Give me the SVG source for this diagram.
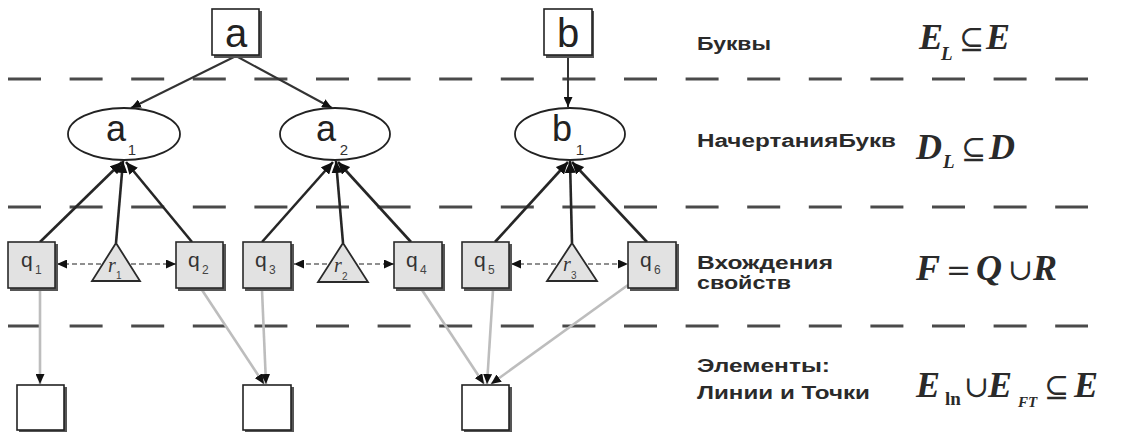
<svg xmlns="http://www.w3.org/2000/svg" width="1126" height="432" viewBox="0 0 1126 432">
  <style>
    .sep { stroke: #4a4a4a; stroke-width: 3; stroke-dasharray: 33 28.6; fill: none; }
    .box { fill: #ffffff; stroke: #222; stroke-width: 1.6; }
    .shadow { fill: #555; }
    .qbox { fill: #e2e2e2; stroke: #2a2a2a; stroke-width: 1.6; }
    .tri { fill: #e2e2e2; stroke: #2a2a2a; stroke-width: 1.8; }
    .ell { fill: #ffffff; stroke: #222; stroke-width: 1.8; }
    .up { stroke: #262626; stroke-width: 2.6; fill: none; }
    .down { stroke: #333; stroke-width: 2; fill: none; }
    .prop { stroke: #8f8f8f; stroke-width: 2; stroke-dasharray: 5 3; fill: none; }
    .elem { stroke: #bdbdbd; stroke-width: 2.6; fill: none; }
    .big { font-family: "Liberation Sans", Arial, sans-serif; font-size: 40px; fill: #222; }
    .lbl { font-family: "Liberation Sans", Arial, sans-serif; font-size: 36px; fill: #222; }
    .sub { font-family: "Liberation Sans", Arial, sans-serif; font-size: 15px; fill: #333; }
    .q { font-family: "Liberation Sans", Arial, sans-serif; font-size: 21px; fill: #333; }
    .qs { font-family: "Liberation Sans", Arial, sans-serif; font-size: 12px; fill: #444; }
    .r { font-family: "Liberation Serif", serif; font-style: italic; font-size: 20px; fill: #333; }
    .rs { font-family: "Liberation Sans", Arial, sans-serif; font-size: 10px; fill: #444; }
    .cap { font-family: "Liberation Sans", Arial, sans-serif; font-weight: bold; font-size: 18px; fill: #2a2a2a; }
    .m { font-family: "Liberation Serif", "DejaVu Serif", serif; font-style: italic; font-weight: bold; font-size: 36px; fill: #2a2a2a; }
    .ms { font-family: "Liberation Serif", "DejaVu Serif", serif; font-style: italic; font-weight: bold; font-size: 19px; fill: #2a2a2a; }
    .op { font-family: "DejaVu Serif", "Liberation Serif", serif; font-size: 30px; fill: #2a2a2a; }
  </style>
  <defs>
    <marker id="headBig" markerUnits="userSpaceOnUse" markerWidth="13" markerHeight="11" refX="12" refY="5.5" orient="auto">
      <path d="M0,0 L12,5.5 L0,11 z" fill="#111"/>
    </marker>
    <marker id="head" markerUnits="userSpaceOnUse" markerWidth="11" markerHeight="9" refX="10" refY="4.5" orient="auto">
      <path d="M0,0 L10,4.5 L0,9 z" fill="#111"/>
    </marker>
    <marker id="headSmall" markerUnits="userSpaceOnUse" markerWidth="11" markerHeight="9" refX="10" refY="4.5" orient="auto">
      <path d="M0,0 L10,4.5 L0,9 z" fill="#111"/>
    </marker>
  </defs>

  <!-- layer separators -->
  <g id="separators">
    <line class="sep" x1="8" y1="79" x2="1088" y2="79"/>
    <line class="sep" x1="8" y1="207" x2="1088" y2="207"/>
    <line class="sep" x1="8" y1="326" x2="1088" y2="326"/>
  </g>

  <!-- connectors -->
  <g id="connectors">
    <!-- letters to letter shapes -->
    <line class="down" x1="236" y1="56" x2="131" y2="108" marker-end="url(#head)"/>
    <line class="down" x1="236" y1="56" x2="332" y2="108" marker-end="url(#head)"/>
    <line class="down" x1="568" y1="56" x2="568" y2="107" marker-end="url(#head)"/>

    <!-- property occurrences to letter shapes -->
    <line class="up" x1="40" y1="242" x2="122" y2="162" marker-end="url(#headBig)"/>
    <line class="up" x1="116" y1="243" x2="123" y2="161" marker-end="url(#headBig)"/>
    <line class="up" x1="192" y1="242" x2="126" y2="162" marker-end="url(#headBig)"/>

    <line class="up" x1="262" y1="242" x2="333" y2="162" marker-end="url(#headBig)"/>
    <line class="up" x1="343" y1="243" x2="336" y2="161" marker-end="url(#headBig)"/>
    <line class="up" x1="411" y1="242" x2="338" y2="162" marker-end="url(#headBig)"/>

    <line class="up" x1="495" y1="242" x2="568" y2="162" marker-end="url(#headBig)"/>
    <line class="up" x1="572" y1="243" x2="570" y2="161" marker-end="url(#headBig)"/>
    <line class="up" x1="647" y1="242" x2="572" y2="162" marker-end="url(#headBig)"/>

    <!-- relations to their arguments -->
    <line class="prop" x1="101" y1="264" x2="57" y2="264" marker-end="url(#headSmall)"/>
    <line class="prop" x1="131" y1="264" x2="176" y2="264" marker-end="url(#headSmall)"/>
    <line class="prop" x1="327" y1="264" x2="294" y2="264" marker-end="url(#headSmall)"/>
    <line class="prop" x1="359" y1="264" x2="394" y2="264" marker-end="url(#headSmall)"/>
    <line class="prop" x1="556" y1="264" x2="511" y2="264" marker-end="url(#headSmall)"/>
    <line class="prop" x1="588" y1="264" x2="628" y2="264" marker-end="url(#headSmall)"/>

    <!-- properties to drawing elements -->
    <line class="elem" x1="40" y1="290" x2="40" y2="384" marker-end="url(#head)"/>
    <line class="elem" x1="202" y1="290" x2="264" y2="384" marker-end="url(#head)"/>
    <line class="elem" x1="262" y1="290" x2="266" y2="384" marker-end="url(#head)"/>
    <line class="elem" x1="422" y1="290" x2="484" y2="384" marker-end="url(#head)"/>
    <line class="elem" x1="493" y1="290" x2="487" y2="384" marker-end="url(#head)"/>
    <line class="elem" x1="628" y1="285" x2="491" y2="384" marker-end="url(#head)"/>
  </g>

  <!-- letters -->
  <g id="letter-a">
    <rect class="shadow" x="214" y="11" width="48" height="47"/>
    <rect class="box" x="212" y="9" width="47" height="46"/>
    <text class="big" x="236" y="47" text-anchor="middle">a</text>
  </g>
  <g id="letter-b">
    <rect class="shadow" x="546" y="11" width="48" height="47"/>
    <rect class="box" x="544" y="9" width="48" height="46"/>
    <text class="big" x="568" y="47" text-anchor="middle">b</text>
  </g>

  <!-- letter shapes -->
  <g id="shape-a1">
    <ellipse class="ell" cx="124" cy="134" rx="56" ry="26"/>
    <text class="lbl" x="116" y="141" text-anchor="middle">a</text>
    <text class="sub" x="132" y="155" text-anchor="middle">1</text>
  </g>
  <g id="shape-a2">
    <ellipse class="ell" cx="335" cy="134" rx="55" ry="26"/>
    <text class="lbl" x="326" y="141" text-anchor="middle">a</text>
    <text class="sub" x="344" y="155" text-anchor="middle">2</text>
  </g>
  <g id="shape-b1">
    <ellipse class="ell" cx="570" cy="134" rx="55" ry="26"/>
    <text class="lbl" x="562" y="141" text-anchor="middle">b</text>
    <text class="sub" x="580" y="155" text-anchor="middle">1</text>
  </g>

  <!-- property occurrences -->
  <g id="q1">
    <rect class="shadow" x="10" y="244" width="48" height="47"/>
    <rect class="qbox" x="8" y="242" width="47" height="46"/>
    <text class="q" x="21" y="267">q</text><text class="qs" x="35" y="274">1</text>
  </g>
  <g id="r1">
    <polygon class="tri" points="116,243 140,281 92,281"/>
    <text class="r" x="108" y="272">r</text><text class="rs" x="116" y="279">1</text>
  </g>
  <g id="q2">
    <rect class="shadow" x="178" y="244" width="48" height="47"/>
    <rect class="qbox" x="176" y="242" width="47" height="46"/>
    <text class="q" x="188" y="267">q</text><text class="qs" x="202" y="274">2</text>
  </g>
  <g id="q3">
    <rect class="shadow" x="245" y="244" width="49" height="47"/>
    <rect class="qbox" x="243" y="242" width="48" height="46"/>
    <text class="q" x="255" y="267">q</text><text class="qs" x="269" y="274">3</text>
  </g>
  <g id="r2">
    <polygon class="tri" points="343,243 368,282 318,282"/>
    <text class="r" x="334" y="272">r</text><text class="rs" x="342" y="280">2</text>
  </g>
  <g id="q4">
    <rect class="shadow" x="396" y="244" width="49" height="47"/>
    <rect class="qbox" x="394" y="242" width="48" height="46"/>
    <text class="q" x="406" y="267">q</text><text class="qs" x="420" y="274">4</text>
  </g>
  <g id="q5">
    <rect class="shadow" x="464" y="244" width="48" height="47"/>
    <rect class="qbox" x="462" y="242" width="47" height="46"/>
    <text class="q" x="474" y="267">q</text><text class="qs" x="488" y="274">5</text>
  </g>
  <g id="r3">
    <polygon class="tri" points="572,243 597,281 547,281"/>
    <text class="r" x="563" y="271">r</text><text class="rs" x="571" y="279">3</text>
  </g>
  <g id="q6">
    <rect class="shadow" x="630" y="244" width="49" height="47"/>
    <rect class="qbox" x="628" y="242" width="48" height="46"/>
    <text class="q" x="640" y="267">q</text><text class="qs" x="654" y="274">6</text>
  </g>

  <!-- drawing elements -->
  <g id="element-1">
    <rect class="shadow" x="19" y="387" width="48" height="46"/>
    <rect class="box" x="17" y="385" width="47" height="45"/>
  </g>
  <g id="element-2">
    <rect class="shadow" x="245" y="387" width="49" height="46"/>
    <rect class="box" x="243" y="385" width="48" height="45"/>
  </g>
  <g id="element-3">
    <rect class="shadow" x="464" y="387" width="48" height="46"/>
    <rect class="box" x="462" y="385" width="47" height="45"/>
  </g>

  <!-- layer captions -->
  <g id="captions">
    <text class="cap" x="697" y="50" textLength="74" lengthAdjust="spacingAndGlyphs">Буквы</text>
    <text class="cap" x="697" y="147" textLength="199" lengthAdjust="spacingAndGlyphs">НачертанияБукв</text>
    <text class="cap" x="697" y="269" textLength="136" lengthAdjust="spacingAndGlyphs">Вхождения</text>
    <text class="cap" x="697" y="289" textLength="94" lengthAdjust="spacingAndGlyphs">свойств</text>
    <text class="cap" x="697" y="372" textLength="133" lengthAdjust="spacingAndGlyphs">Элементы:</text>
    <text class="cap" x="697" y="399" textLength="173" lengthAdjust="spacingAndGlyphs">Линии и Точки</text>
  </g>

  <!-- set formulas -->
  <g id="formulas">
    <text class="m" x="919" y="49">E</text>
    <text class="ms" x="941" y="60">L</text>
    <text class="op" x="959" y="49">⊆</text>
    <text class="m" x="986" y="49">E</text>

    <text class="m" x="916" y="159">D</text>
    <text class="ms" x="943" y="168">L</text>
    <text class="op" x="961" y="159">⊆</text>
    <text class="m" x="989" y="159">D</text>

    <text class="m" x="916" y="280">F</text>
    <text class="op" x="946" y="280">=</text>
    <text class="m" x="976" y="280">Q</text>
    <text class="op" x="1008" y="280">∪</text>
    <text class="m" x="1033" y="280">R</text>

    <text class="m" x="916" y="397">E</text>
    <text class="ms" x="945" y="405" style="font-style:normal">ln</text>
    <text class="op" x="964" y="397">∪</text>
    <text class="m" x="988" y="397">E</text>
    <text class="ms" x="1018" y="407" style="font-size:15px">FT</text>
    <text class="op" x="1044" y="397">⊆</text>
    <text class="m" x="1074" y="397">E</text>
  </g>
</svg>
